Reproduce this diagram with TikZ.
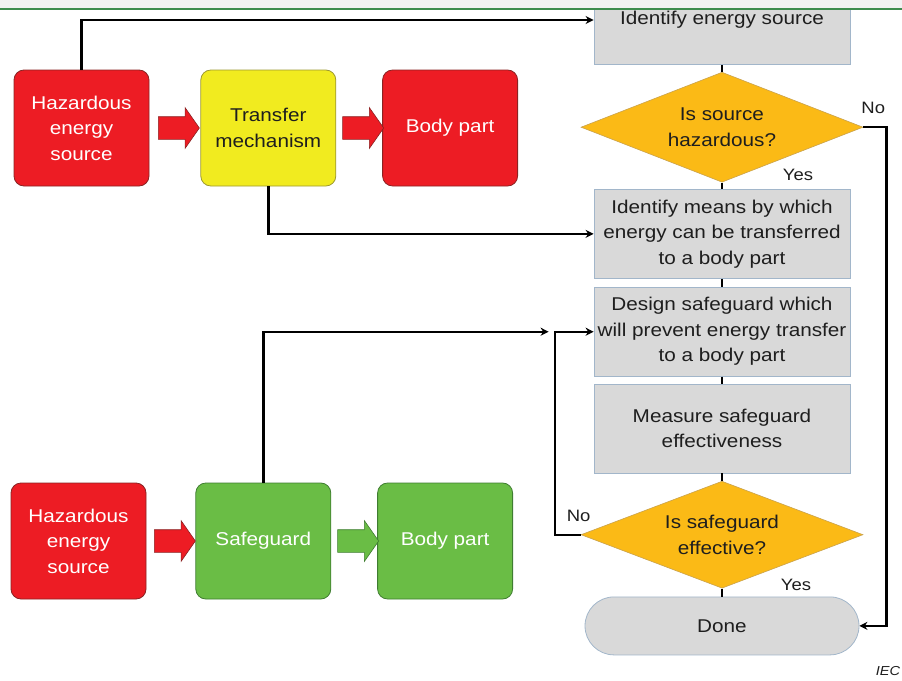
\documentclass[tikz,border=0pt]{standalone}
\usepackage{fontspec}
\setmainfont{Liberation Sans}[FakeStretch=1.12]
\usepackage{tikz}
\usetikzlibrary{arrows.meta,positioning,calc,shapes.geometric,shapes.arrows}
\definecolor{hred}{HTML}{ED1C24}
\definecolor{hredd}{HTML}{8A2323}
\definecolor{tyel}{HTML}{F1EB1F}
\definecolor{tyeld}{HTML}{9C9830}
\definecolor{sgrn}{HTML}{6ABD45}
\definecolor{sgrnd}{HTML}{3F7D31}
\definecolor{fgray}{HTML}{D9D9D9}
\definecolor{fedge}{HTML}{A2B6CA}
\definecolor{qorg}{HTML}{FBBA16}
\definecolor{qedge}{HTML}{C9A24E}
\definecolor{ink}{HTML}{1E1E1E}
\definecolor{band}{HTML}{F2F2F2}
\definecolor{rule}{HTML}{3E8C4E}
\tikzset{
  >={Stealth[length=8pt,width=8pt]},
  txt/.style={font=\fontsize{18.5}{25.5}\selectfont,align=center},
  blk/.style={txt,rectangle,rounded corners=10pt,line width=0.8pt,minimum width=135pt,minimum height=116pt,inner sep=2pt},
  rbox/.style={blk,draw=hredd,fill=hred,text=white},
  ybox/.style={blk,draw=tyeld,fill=tyel,text=ink},
  gbox/.style={blk,draw=sgrnd,fill=sgrn,text=white},
  fbox/.style={txt,rectangle,draw=fedge,fill=fgray,text=ink,line width=0.8pt,minimum width=256pt,minimum height=89pt,inner sep=2pt},
  qbox/.style={txt,diamond,aspect=2.5,draw=qedge,fill=qorg,text=ink,line width=0.6pt,minimum width=282pt,minimum height=110pt,inner sep=0pt},
  ebox/.style={txt,rectangle,rounded corners=29pt,draw=fedge,fill=fgray,text=ink,line width=0.8pt,minimum width=274pt,minimum height=58pt},
  barr/.style={single arrow,single arrow head extend=9pt,single arrow tip angle=110,minimum height=41pt,minimum width=40pt,inner sep=11pt,line width=0.6pt},
  lab/.style={font=\fontsize{16.5}{20}\selectfont,text=ink,inner sep=0pt},
  arr/.style={->,draw=black,line width=2.4pt},
  ln/.style={draw=black,line width=2.4pt},
}
\begin{document}
\begin{tikzpicture}[x=1pt,y=-1pt,node distance=8.5pt]
\useasboundingbox (0,0) rectangle (902,680);
% hazard -> transfer -> body part
\node[rbox] (hz1) at (81.5,128) {Hazardous\\energy\\source};
\node[ybox,right=51pt of hz1] (tm) {Transfer\\mechanism};
\node[rbox,right=46pt of tm] (bp1) {Body part};
\node[barr,draw=hredd,fill=hred] (a1) at ($(hz1.east)!0.5!(tm.west)$) {};
\node[barr,draw=hredd,fill=hred] (a2) at ($(tm.east)!0.5!(bp1.west)$) {};
% hazard -> safeguard -> body part
\node[rbox] (hz2) at (78.5,541) {Hazardous\\energy\\source};
\node[gbox,right=49pt of hz2] (sg) {Safeguard};
\node[gbox,right=46pt of sg] (bp2) {Body part};
\node[barr,draw=hredd,fill=hred] (a3) at ($(hz2.east)!0.5!(sg.west)$) {};
\node[barr,draw=sgrnd,fill=sgrn] (a4) at ($(sg.east)!0.5!(bp2.west)$) {};
% flow chart
\node[fbox] (id) at (722,20) {Identify energy source};
\node[qbox,below=7pt of id] (dq1) {Is source\\hazardous?};
\node[fbox,below=6.5pt of dq1] (im) {Identify means by which\\energy can be transferred\\to a body part};
\node[fbox,below=8pt of im] (ds) {Design safeguard which\\will prevent energy transfer\\to a body part};
\node[fbox,below=7pt of ds] (ms) {Measure safeguard\\effectiveness};
\node[qbox,minimum height=107pt,below=7.5pt of ms] (dq2) {Is safeguard\\effective?};
\node[ebox,below=8pt of dq2] (done) {Done};
\fill[band] (0,0) rectangle (902,8);
\draw[rule,line width=2.5pt] (0,9) -- (902,9);
% connectors
\draw[ln] (id.south) -- (dq1.north);
\draw[ln] (dq1.south) -- (im.north);
\draw[ln] (im.south) -- (ds.north);
\draw[ln] (ds.south) -- (ms.north);
\draw[ln] (ms.south) -- (dq2.north);
\draw[ln] (dq2.south) -- (done.north);
\draw[arr] (dq1.east) -- ++(23,0) |- (done.east);
\draw[arr] (dq2.west) -- ++(-26,0) |- (ds.west);
\draw[arr] (hz1.north) |- (id.west);
\draw[arr] (tm.south) |- (im.west);
\coordinate (jn) at ([xshift=-45pt]ds.west);
\draw[arr] (sg.north) |- (jn);
% labels
\node[lab] (no1) at ([shift={(10,-19)}]dq1.east) {No};
\node[lab] (yes1) at ([shift={(76,-8)}]dq1.south) {Yes};
\node[lab] (no2) at ([shift={(-2,-19)}]dq2.west) {No};
\node[lab] (yes2) at ([shift={(74,-4)}]dq2.south) {Yes};
\node[lab,font=\fontsize{13}{15}\selectfont\itshape] (iec) at (888,671) {IEC};
\end{tikzpicture}
\end{document}
